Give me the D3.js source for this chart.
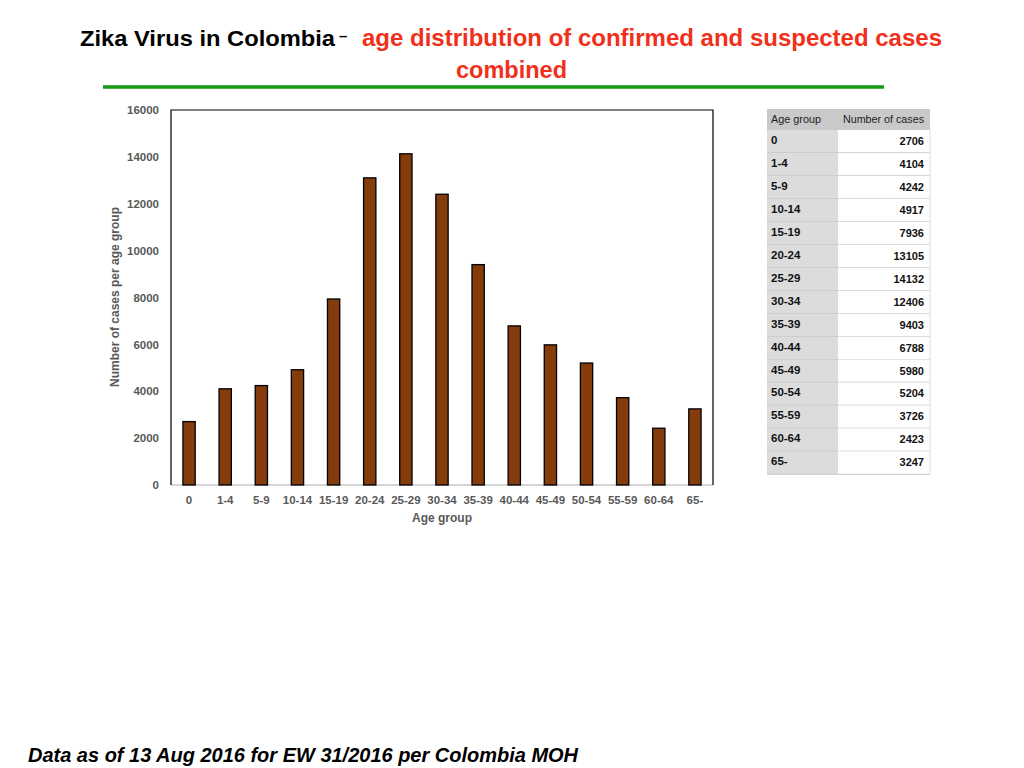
<!DOCTYPE html>
<html><head><meta charset="utf-8">
<script src="https://cdn.jsdelivr.net/npm/d3@7/dist/d3.min.js"></script>
<style>
body{margin:0;background:#fff;}
svg{display:block;font-family:"Liberation Sans",Arial,Helvetica,sans-serif;}
</style></head>
<body>
<svg id="c" width="1024" height="768"></svg>
<script>
const ageGroups = ["0","1-4","5-9","10-14","15-19","20-24","25-29","30-34","35-39","40-44","45-49","50-54","55-59","60-64","65-"];
const cases = [2706,4104,4242,4917,7936,13105,14132,12406,9403,6788,5980,5204,3726,2423,3247];
const yTicks = [0,2000,4000,6000,8000,10000,12000,14000,16000];
const titleBlack = "Zika Virus in Colombia";
const titleRed1 = "age  distribution of confirmed and suspected cases";
const titleRed2 = "combined";
const footer = "Data as of 13 Aug 2016 for EW 31/2016 per Colombia MOH";
const tableHeaders = ["Age group","Number of cases"];

const svg = d3.select("#c");

// Title
svg.append("text").attr("x",80).attr("y",46).attr("font-size",22).attr("font-weight","bold").attr("fill","#000")
  .attr("textLength",255).attr("lengthAdjust","spacingAndGlyphs").text(titleBlack);
svg.append("text").attr("x",339).attr("y",41).attr("font-size",15).attr("font-weight","bold").attr("fill","#000").text("–");
svg.append("text").attr("x",362).attr("y",46).attr("font-size",23).attr("font-weight","bold").attr("fill","#f0301a")
  .attr("textLength",580).attr("lengthAdjust","spacingAndGlyphs").text(titleRed1);
svg.append("text").attr("x",511.5).attr("y",78).attr("text-anchor","middle").attr("font-size",23).attr("font-weight","bold").attr("fill","#f0301a")
  .attr("textLength",111).attr("lengthAdjust","spacingAndGlyphs").text(titleRed2);
svg.append("line").attr("x1",103).attr("x2",884).attr("y1",87).attr("y2",87).attr("stroke","#169a16").attr("stroke-width",3.5);

// Chart
const L=171,R=713,T=110,B=485;
const x = d3.scaleBand().domain(ageGroups).range([L,R]).paddingInner(0.66).paddingOuter(0.33);
const y = d3.scaleLinear().domain([0,16000]).range([B,T]);

const g = svg.append("g");
g.append("line").attr("x1",L).attr("x2",R).attr("y1",B).attr("y2",B).attr("stroke","#c8c8c8").attr("stroke-width",1.5);
g.append("path").attr("d",`M${L},${B}V${T}H${R}V${B}`).attr("fill","none").attr("stroke","#000").attr("stroke-width",1.2);

g.selectAll("rect.bar").data(cases).join("rect").attr("class","bar")
  .attr("x",(d,i)=>x(ageGroups[i])).attr("width",x.bandwidth())
  .attr("y",d=>y(d)).attr("height",d=>B-y(d))
  .attr("fill","#843c0c").attr("stroke","#000").attr("stroke-width",1.3);

const yAxis = g.append("g").attr("transform",`translate(${L},0)`)
  .call(d3.axisLeft(y).tickValues(yTicks).tickSize(0).tickPadding(12).tickFormat(d3.format("d")));
yAxis.select(".domain").remove();
yAxis.selectAll("text").attr("font-size",11.5).attr("font-weight","bold").attr("fill","#595959").attr("font-family","Liberation Sans, Arial, sans-serif");

const xAxis = g.append("g").attr("transform",`translate(0,${B})`)
  .call(d3.axisBottom(x).tickSize(0).tickPadding(11));
xAxis.select(".domain").remove();
xAxis.selectAll("text").attr("font-size",11.5).attr("font-weight","bold").attr("fill","#595959").attr("font-family","Liberation Sans, Arial, sans-serif");

svg.append("text").attr("x",442).attr("y",522).attr("text-anchor","middle").attr("font-size",12).attr("font-weight","bold").attr("fill","#595959").text("Age group");
svg.append("text").attr("transform",`translate(119,297) rotate(-90)`).attr("text-anchor","middle").attr("font-size",12).attr("font-weight","bold").attr("fill","#595959")
  .attr("textLength",180).attr("lengthAdjust","spacingAndGlyphs").text("Number of cases per age group");

// Table
const tx0=767, tx1=838, tx2=930, ty0=109, hh=21, rh=22.95;
const tg = svg.append("g");
tg.append("rect").attr("x",tx0).attr("y",ty0).attr("width",tx2-tx0).attr("height",hh).attr("fill","#c9c9c9");
tg.append("text").attr("x",tx0+4).attr("y",ty0+14).attr("font-size",10.5).attr("fill","#222")
  .attr("textLength",50).attr("lengthAdjust","spacingAndGlyphs").text(tableHeaders[0]);
tg.append("text").attr("x",tx2-6).attr("y",ty0+14).attr("text-anchor","end").attr("font-size",10.5).attr("fill","#222")
  .attr("textLength",81).attr("lengthAdjust","spacingAndGlyphs").text(tableHeaders[1]);
const rows = tg.selectAll("g.row").data(ageGroups).join("g").attr("class","row")
  .attr("transform",(d,i)=>`translate(0,${ty0+hh+i*rh})`);
rows.append("rect").attr("x",tx0).attr("width",tx1-tx0).attr("height",rh).attr("fill","#dcdcdc");
rows.append("rect").attr("x",tx1).attr("width",tx2-tx1).attr("height",rh).attr("fill","#fff");
rows.append("line").attr("x1",tx0).attr("x2",tx2).attr("y1",rh).attr("y2",rh).attr("stroke","#c4c4c4").attr("stroke-width",1.2);
rows.append("text").attr("x",tx0+4).attr("y",14).attr("font-size",11.5).attr("font-weight","bold").attr("fill","#111").text(d=>d);
rows.append("text").attr("x",tx2-6).attr("y",15).attr("text-anchor","end").attr("font-size",11).attr("font-weight","bold").attr("fill","#111").text((d,i)=>cases[i]);
tg.append("line").attr("x1",tx2).attr("x2",tx2).attr("y1",ty0+hh).attr("y2",ty0+hh+15*rh).attr("stroke","#dcdcdc");

// Footer
svg.append("text").attr("x",28).attr("y",762).attr("font-size",19.5).attr("font-weight","bold").attr("font-style","italic").attr("fill","#000")
  .attr("textLength",550).attr("lengthAdjust","spacingAndGlyphs").text(footer);
</script>
</body></html>
